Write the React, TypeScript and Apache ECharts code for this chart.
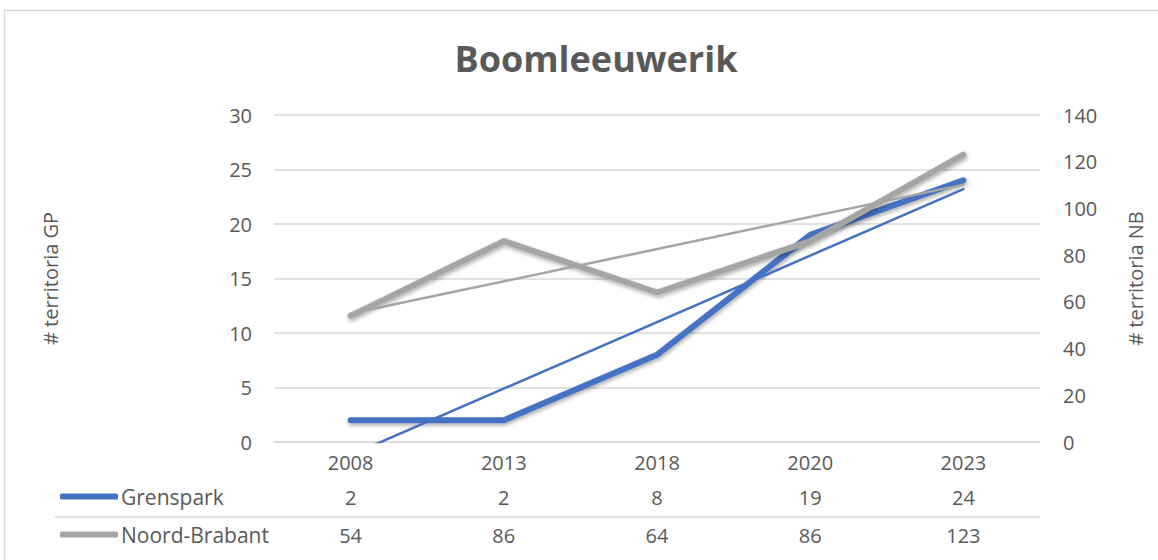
import React, { useEffect, useRef } from "react";
import * as echarts from "echarts";

const titleText = "Boomleeuwerik";
const years = ["2008", "2013", "2018", "2020", "2023"];
const seriesNames = ["Grenspark", "Noord-Brabant"];
const grensparkValues = [2, 2, 8, 19, 24];
const noordBrabantValues = [54, 86, 64, 86, 123];
// linear trendline end points (first and last year)
const grensparkTrendEnds = [-1.2, 23.2];
const noordBrabantTrendEnds = [55, 110.2];
const leftAxisName = "# territoria GP";
const rightAxisName = "# territoria NB";

const BLUE = "#4472C4";
const GRAY = "#A5A5A5";
const TEXT = "#595959";
const LINE = "#D9D9D9";
const FONT = "'Open Sans', 'Noto Sans', sans-serif";
const FS = 20;

function trendData(ends: number[], n: number) {
  return Array.from({ length: n }, (_, i) => (i === 0 ? ends[0] : i === n - 1 ? ends[1] : null));
}

export default function App() {
  const ref = useRef<HTMLDivElement>(null);
  useEffect(() => {
    document.body.style.margin = "0";
    if (!ref.current) return;
    const chart = echarts.init(ref.current, null, { renderer: "svg" });
    const shadow = {
      shadowColor: "rgba(0,0,0,0.35)",
      shadowBlur: 4,
      shadowOffsetX: 1,
      shadowOffsetY: 2,
    };
    const label = { color: TEXT, fontSize: FS, fontFamily: FONT };
    chart.setOption({
      animation: false,
      backgroundColor: "#ffffff",
      textStyle: { fontFamily: FONT },
      title: {
        text: titleText,
        left: 591,
        textAlign: "center",
        top: 35,
        textStyle: { fontFamily: FONT, fontSize: 36, fontWeight: "bold", color: TEXT },
      },
      legend: {
        data: seriesNames,
        orient: "vertical",
        left: 60,
        top: 486,
        padding: 0,
        itemGap: 17,
        itemWidth: 58,
        itemHeight: 6,
        icon: "roundRect",
        textStyle: { fontFamily: FONT, fontSize: 21, color: TEXT, lineHeight: 21, padding: [0, 0, 0, -2] },
        selectedMode: false,
      },
      grid: { left: 274, right: 118, top: 115, bottom: 118 },
      xAxis: [
        {
          type: "category",
          data: years,
          boundaryGap: true,
          axisLine: { show: true, lineStyle: { color: LINE, width: 1.5 } },
          axisTick: { show: false },
          axisLabel: { ...label, margin: 10 },
        },
        {
          type: "category",
          data: grensparkValues.map(String),
          position: "bottom",
          offset: 35,
          axisLine: { show: false },
          axisTick: { show: false },
          axisLabel: { ...label, margin: 10 },
        },
        {
          type: "category",
          data: noordBrabantValues.map(String),
          position: "bottom",
          offset: 73,
          axisLine: { show: false },
          axisTick: { show: false },
          axisLabel: { ...label, margin: 10 },
        },
      ],
      yAxis: [
        {
          type: "value",
          min: 0,
          max: 30,
          interval: 5,
          position: "left",
          name: leftAxisName,
          nameLocation: "middle",
          nameGap: 214,
          nameRotate: 90,
          nameTextStyle: label,
          axisLine: { show: false },
          axisTick: { show: false },
          axisLabel: { ...label, margin: 22 },
          splitLine: { lineStyle: { color: LINE, width: 1.5 } },
        },
        {
          type: "value",
          min: 0,
          max: 140,
          interval: 20,
          position: "right",
          name: rightAxisName,
          nameLocation: "middle",
          nameGap: 85,
          nameRotate: 90,
          nameTextStyle: label,
          axisLine: { show: false },
          axisTick: { show: false },
          axisLabel: { ...label, margin: 23 },
          splitLine: { show: false },
        },
      ],
      series: [
        {
          name: seriesNames[0],
          type: "line",
          xAxisIndex: 0,
          yAxisIndex: 0,
          data: grensparkValues,
          symbol: "none",
          color: BLUE,
          lineStyle: { color: BLUE, width: 6, cap: "round", join: "round", ...shadow },
          z: 3,
        },
        {
          name: seriesNames[0] + " trend",
          type: "line",
          xAxisIndex: 0,
          yAxisIndex: 0,
          data: trendData(grensparkTrendEnds, years.length),
          connectNulls: true,
          symbol: "none",
          color: BLUE,
          lineStyle: { color: BLUE, width: 2.5, cap: "round" },
          z: 3,
        },
        {
          name: seriesNames[1],
          type: "line",
          xAxisIndex: 0,
          yAxisIndex: 1,
          data: noordBrabantValues,
          symbol: "none",
          color: GRAY,
          lineStyle: { color: GRAY, width: 6, cap: "round", join: "round", ...shadow },
          z: 4,
        },
        {
          name: seriesNames[1] + " trend",
          type: "line",
          xAxisIndex: 0,
          yAxisIndex: 1,
          data: trendData(noordBrabantTrendEnds, years.length),
          connectNulls: true,
          symbol: "none",
          color: GRAY,
          lineStyle: { color: GRAY, width: 2.5, cap: "round" },
          z: 4,
        },
      ],
      graphic: [
        {
          type: "rect",
          shape: { x: 4.5, y: 10.5, width: 1180, height: 600 },
          style: { fill: "none", stroke: LINE, lineWidth: 1.5 },
          silent: true,
          z: -10,
        },
        {
          type: "line",
          shape: { x1: 55, y1: 517, x2: 1040, y2: 517 },
          style: { stroke: LINE, lineWidth: 1.5 },
          silent: true,
        },
      ],
    });
    return () => chart.dispose();
  }, []);
  return <div ref={ref} style={{ width: 1158, height: 560 }} />;
}
